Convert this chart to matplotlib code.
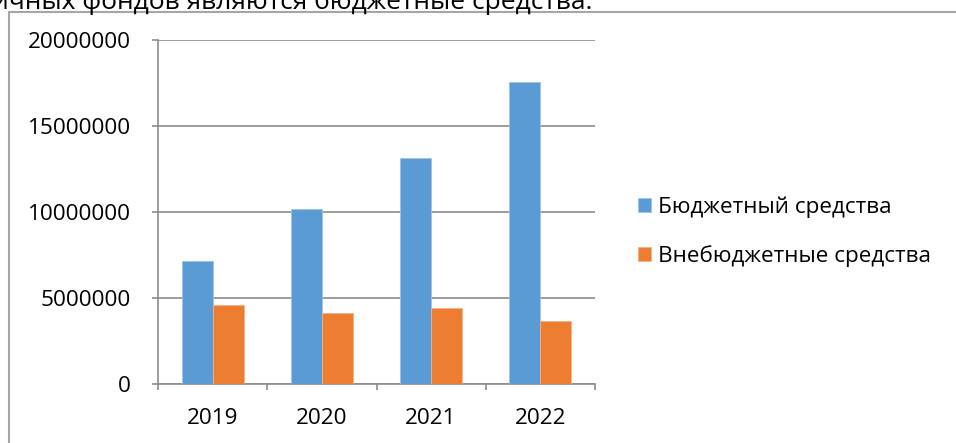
import matplotlib
matplotlib.use("Agg")
import matplotlib.pyplot as plt
from matplotlib.lines import Line2D
import numpy as np

plt.rcParams['font.family'] = ['Open Sans', 'DejaVu Sans']

years = ['2019', '2020', '2021', '2022']
budget = [7140000, 10190000, 13150000, 17560000]
extra = [4580000, 4110000, 4420000, 3650000]
series_names = ['Бюджетный средства', 'Внебюджетные средства']
top_text = 'ичных фондов являются бюджетные средства.'

W, H = 956, 443
fig = plt.figure(figsize=(W / 100, H / 100), dpi=100)

def fx(px):
    return px / W

def fy(py):
    return 1 - py / H

ax_l, ax_r, ax_t, ax_b = 158, 595, 40.3, 384
ax = fig.add_axes([fx(ax_l), fy(ax_b), fx(ax_r - ax_l), (ax_b - ax_t) / H])

x = np.arange(len(years))
bw = 0.284
blue = '#5B9BD5'
orange = '#ED7D31'
b1 = ax.bar(x - bw / 2, budget, width=bw, color=blue, edgecolor='#9DC3E6', linewidth=0.6,
            label=series_names[0], zorder=3)
b2 = ax.bar(x + bw / 2, extra, width=bw, color=orange, edgecolor='#F4B183', linewidth=0.6,
            label=series_names[1], zorder=3)

ax.set_xlim(-0.5, len(years) - 0.5)
ax.set_ylim(0, 20000000)
ax.set_yticks(np.arange(0, 20000001, 5000000))
ax.set_yticklabels([str(v) for v in range(0, 20000001, 5000000)])
ax.set_xticks(x)
ax.set_xticklabels(years)
ax.set_xticks(np.arange(-0.5, len(years), 1.0), minor=True)

grid_c = '#8C8C8C'
ax.yaxis.grid(True, color=grid_c, linewidth=1.2, zorder=0)
ax.set_axisbelow(True)
for s in ['top', 'right']:
    ax.spines[s].set_visible(False)
ax.spines['left'].set_color(grid_c)
ax.spines['bottom'].set_color(grid_c)
ax.spines['left'].set_linewidth(1.2)
ax.spines['bottom'].set_linewidth(1.2)

ax.tick_params(axis='y', length=4.5, width=1.2, color=grid_c, pad=15, labelsize=16.2, labelcolor='black')
ax.tick_params(axis='x', which='major', length=0, pad=17, labelsize=16.2, labelcolor='black')
ax.tick_params(axis='x', which='minor', length=4, width=1.2, color=grid_c)

leg = fig.legend(handles=[b1, b2], labels=series_names, loc='center left',
                 bbox_to_anchor=(fx(638), fy(231.5)), frameon=False, fontsize=16.2,
                 handlelength=0.58, handleheight=0.58, handletextpad=0.3,
                 labelspacing=1.2, borderpad=0, borderaxespad=0)

# document frame
frame_c = '#A6A6A6'
fig.add_artist(Line2D([fx(8.5), fx(8.5)], [fy(11.5), fy(443)], color=frame_c, linewidth=1.5))
fig.add_artist(Line2D([fx(8.5), fx(956)], [fy(11.5), fy(11.5)], color=frame_c, linewidth=1.5))

fig.text(fx(592), fy(8.8), top_text, ha='right', va='baseline', fontsize=19, color='black')

fig.savefig('out.png', dpi=100, facecolor='white')
